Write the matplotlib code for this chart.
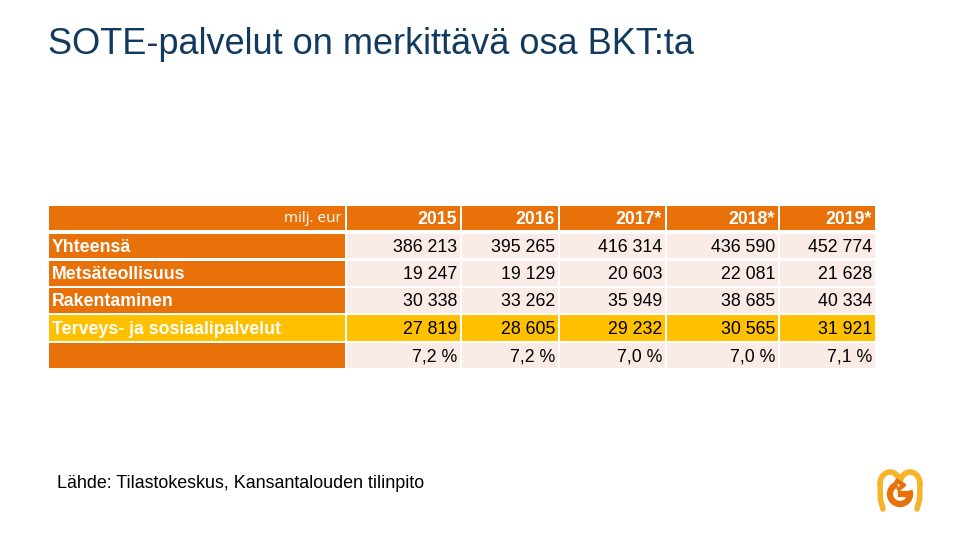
import matplotlib
matplotlib.use("Agg")
import matplotlib.pyplot as plt
from matplotlib.patches import Rectangle, Arc

plt.rcParams["font.family"] = ["Liberation Sans", "DejaVu Sans"]

ORANGE = "#E8710A"
PINK = "#FBEBE6"
YELLOW = "#FFC000"
NAVY = "#123A5E"
GOLD = "#F5B325"

title = "SOTE-palvelut on merkittävä osa BKT:ta"
source = "Lähde: Tilastokeskus, Kansantalouden tilinpito"
unit = "milj. eur"

years = ["2015", "2016", "2017*", "2018*", "2019*"]
row_labels = ["Yhteensä", "Metsäteollisuus", "Rakentaminen", "Terveys- ja sosiaalipalvelut", ""]
yhteensa = ["386 213", "395 265", "416 314", "436 590", "452 774"]
metsa = ["19 247", "19 129", "20 603", "22 081", "21 628"]
rakentaminen = ["30 338", "33 262", "35 949", "38 685", "40 334"]
sote = ["27 819", "28 605", "29 232", "30 565", "31 921"]
osuus = ["7,2 %", "7,2 %", "7,0 %", "7,0 %", "7,1 %"]
rows = [yhteensa, metsa, rakentaminen, sote, osuus]
highlight_row = 3

# layout in pixels
col_edges = [(49, 345), (347, 460), (462, 558), (560, 665), (667, 778), (780, 875)]
header_y = (206, 230)
row_y = [(234, 258), (261, 286), (288, 313), (315, 341), (343, 368)]

fig = plt.figure(figsize=(9.6, 5.4), dpi=100)
ax = fig.add_axes([0, 0, 1, 1])
ax.set_xlim(0, 960)
ax.set_ylim(540, 0)
ax.axis("off")

ax.text(48, 44, title, fontsize=26, color=NAVY, va="center", ha="left")

# header row
for i, (x0, x1) in enumerate(col_edges):
    y0, y1 = header_y
    ax.add_patch(Rectangle((x0, y0), x1 - x0, y1 - y0, color=ORANGE, lw=0))
    if i == 0:
        ax.text(x1 - 3, (y0 + y1) / 2 + 1, unit, fontsize=11, color="white",
                ha="right", va="center", family=["Open Sans", "DejaVu Sans"])
    else:
        ax.text(x1 - 3, (y0 + y1) / 2 + 1, years[i - 1], fontsize=12.7, color="white",
                ha="right", va="center", fontweight="bold")

# body rows
for r, (label, vals) in enumerate(zip(row_labels, rows)):
    y0, y1 = row_y[r]
    ym = (y0 + y1) / 2 + 1
    lab_color = YELLOW if r == highlight_row else ORANGE
    cell_color = YELLOW if r == highlight_row else PINK
    x0, x1 = col_edges[0]
    ax.add_patch(Rectangle((x0, y0), x1 - x0, y1 - y0, color=lab_color, lw=0))
    ax.text(x0 + 3, ym, label, fontsize=12.8, color="white", fontweight="bold",
            ha="left", va="center")
    for c, v in enumerate(vals):
        x0, x1 = col_edges[c + 1]
        ax.add_patch(Rectangle((x0, y0), x1 - x0, y1 - y0, color=cell_color, lw=0))
        ax.text(x1 - 3, ym, v, fontsize=12.8, color="black", ha="right", va="center")

ax.text(57, 483, source, fontsize=12.9, color="black", ha="left", va="center")

# logo (approximation)
ax.add_patch(Arc((890, 484), 20, 24, theta1=180, theta2=360, color=GOLD, lw=4))
ax.add_patch(Arc((910, 484), 20, 24, theta1=180, theta2=360, color=GOLD, lw=4))
ax.plot([880, 880.5, 883], [484, 500, 509], color=GOLD, lw=4, solid_capstyle="round")
ax.plot([920, 919.5, 917], [484, 500, 509], color=GOLD, lw=4, solid_capstyle="round")
ax.add_patch(Arc((900, 494), 20, 20, theta1=-20, theta2=255, color=ORANGE, lw=4.5))
ax.plot([901, 910], [494, 494], color=ORANGE, lw=4.5)
ax.plot([897, 904, 899], [481, 485, 489], color=ORANGE, lw=3)

fig.savefig("out.png", dpi=100)
